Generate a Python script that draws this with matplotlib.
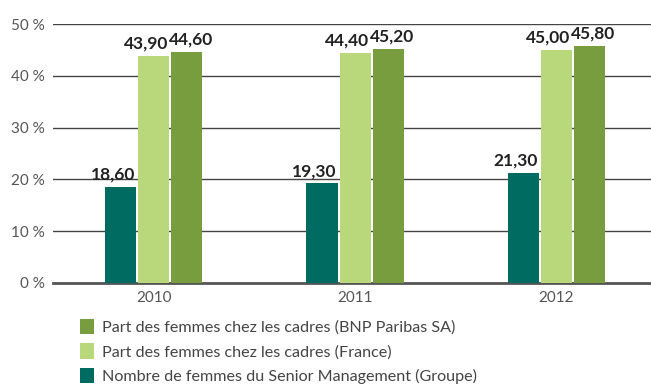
import matplotlib.pyplot as plt
import numpy as np

years = ['2010', '2011', '2012']
senior_groupe = [18.60, 19.30, 21.30]
cadres_france = [43.90, 44.40, 45.00]
cadres_bnp_sa = [44.60, 45.20, 45.80]

series_labels = [
    'Nombre de femmes du Senior Management (Groupe)',
    'Part des femmes chez les cadres (France)',
    'Part des femmes chez les cadres (BNP Paribas SA)',
]
colors = ['#006B60', '#B9D77B', '#789D3E']
# horizontal nudge (pixels) of the value labels so neighbours don't collide
label_shift = [-8, -8, 4]

plt.rcParams['font.family'] = ['Lato', 'DejaVu Sans']

fig = plt.figure(figsize=(6.51, 3.84), dpi=100)
ax = fig.add_axes([53 / 651, 1 - 283 / 384, 598 / 651, 259 / 384])

x = np.arange(len(years))
width = 0.154
step = 0.164
handles = []
for i, (vals, col) in enumerate(zip([senior_groupe, cadres_france, cadres_bnp_sa], colors)):
    bars = ax.bar(x + (i - 1) * step, vals, width, color=col, zorder=3, label=series_labels[i])
    handles.append(bars)
    for b, v in zip(bars, vals):
        ax.annotate(f'{v:.2f}'.replace('.', ','), (b.get_x() + b.get_width() / 2, v),
                    xytext=(label_shift[i], 4), textcoords='offset pixels',
                    ha='center', va='bottom', fontsize=12.5, fontweight='bold',
                    color='#222222')

ax.set_xlim(-0.5, 2.47)
ax.set_ylim(0, 50)
ax.set_yticks(range(0, 51, 10))
ax.set_yticklabels([f'{t} %' for t in range(0, 51, 10)])
ax.set_xticks(x)
ax.set_xticklabels(years)
ax.tick_params(axis='both', length=0, labelsize=11, colors='#555555')
ax.tick_params(axis='y', pad=6)
ax.tick_params(axis='x', pad=6)
ax.yaxis.grid(True, color='#444444', linewidth=1.0, zorder=0)
for s in ['top', 'right', 'left']:
    ax.spines[s].set_visible(False)
ax.spines['bottom'].set_color('#555555')
ax.spines['bottom'].set_linewidth(2)

fig.legend(handles[::-1], series_labels[::-1], loc='upper left',
           bbox_to_anchor=(80 / 651, 1 - 319 / 384), frameon=False,
           fontsize=11.6, labelcolor='#444444', handlelength=0.85, handleheight=1.1,
           handletextpad=0.5, labelspacing=0.5, borderpad=0, borderaxespad=0)

fig.savefig('out.png', dpi=100)
